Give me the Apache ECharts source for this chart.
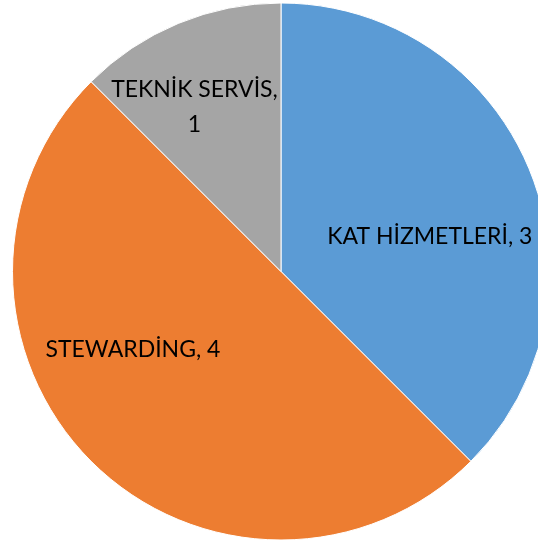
<!DOCTYPE html>
<html>
<head>
<meta charset="utf-8">
<script src="https://cdn.jsdelivr.net/npm/echarts@6/dist/echarts.min.js"></script>
<style>
  html, body { margin: 0; padding: 0; background: #fff; }
  #chart { width: 538px; height: 542px; }
</style>
</head>
<body>
<div id="chart"></div>
<script>
// veriler
var names = ['KAT HİZMETLERİ', 'STEWARDİNG', 'TEKNİK SERVİS'];
var values = [3, 4, 1];
var colors = ['#5B9BD5', '#ED7D31', '#A5A5A5'];
// etiket kaydırmaları (excel tarzı yerleşim)
var labelOffsets = [[22, 18], [-51, -19], [-34, -38]];

var pieData = names.map(function (n, i) {
  var item = {
    name: n,
    value: values[i],
    itemStyle: { color: colors[i] },
    label: { offset: labelOffsets[i] }
  };
  if (i === 2) {
    item.label.formatter = '{b},\n{c}';
  }
  return item;
});

var myChart = echarts.init(document.getElementById('chart'));
option = {
  animation: false,
  series: [{
    type: 'pie',
    center: [281, 271.5],
    radius: 268.5,
    startAngle: 90,
    clockwise: true,
    avoidLabelOverlap: false,
    itemStyle: {
      borderColor: '#fff',
      borderWidth: 1
    },
    label: {
      show: true,
      position: 'inside',
      formatter: '{b}, {c}',
      color: '#000',
      fontFamily: 'Lato',
      fontSize: 23,
      lineHeight: 35,
      align: 'center'
    },
    labelLine: { show: false },
    emphasis: { disabled: true },
    data: pieData
  }]
};
myChart.setOption(option);
</script>
</body>
</html>
